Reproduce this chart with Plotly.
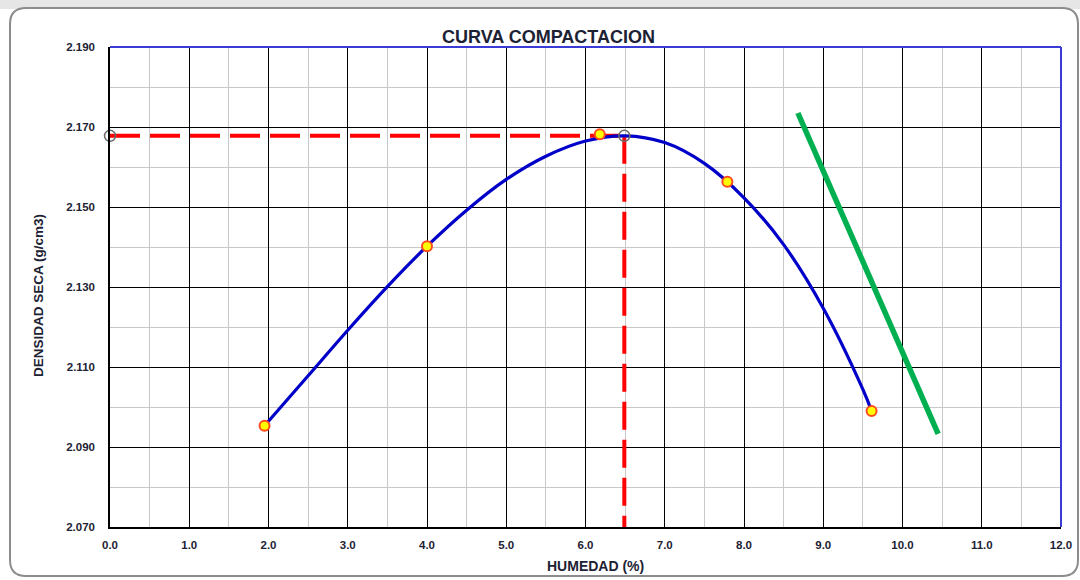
import plotly.graph_objects as go

# Ensayo Proctor: humedad (%) y densidad seca (g/cm3)
humedad = [1.95, 4.00, 6.18, 7.79, 9.61]
densidad = [2.0953, 2.1402, 2.1682, 2.1563, 2.0990]

# Curva de compactación (puntos de la curva ajustada)
curva_x = [1.95, 2.5, 3.0, 3.5, 4.0, 4.5, 5.0, 5.5, 6.0, 6.5, 7.0, 7.5, 8.0, 8.5, 9.0, 9.5, 9.61]
curva_y = [2.0953, 2.1078, 2.1192, 2.1301, 2.1402, 2.1492, 2.1569, 2.1627, 2.1665, 2.1678,
           2.1661, 2.1609, 2.1523, 2.1406, 2.1247, 2.1044, 2.0990]

# Óptimo: humedad óptima y máxima densidad seca
hum_optima = 6.49
dens_max = 2.1678

# Línea de saturación
sat_x = [8.68, 10.45]
sat_y = [2.1735, 2.0933]

x_ticks = [0, 1, 2, 3, 4, 5, 6, 7, 8, 9, 10, 11, 12]
y_ticks = [2.070, 2.090, 2.110, 2.130, 2.150, 2.170, 2.190]

FONT = "Liberation Sans, Arial, sans-serif"
TXT = "#1c2233"

fig = go.Figure()

# Líneas discontinuas del óptimo
fig.add_trace(go.Scatter(
    x=[0, hum_optima], y=[dens_max, dens_max], mode="lines",
    line=dict(color="#ff0000", width=4, dash="30px,10px"), hoverinfo="skip"))
fig.add_trace(go.Scatter(
    x=[hum_optima, hum_optima], y=[dens_max, 2.070], mode="lines",
    line=dict(color="#ff0000", width=4, dash="28px,10px"), hoverinfo="skip"))

# Curva de compactación
fig.add_trace(go.Scatter(
    x=curva_x, y=curva_y, mode="lines", line_shape="spline",
    line=dict(color="#0000c8", width=3.2)))

# Línea de saturación
fig.add_trace(go.Scatter(
    x=sat_x, y=sat_y, mode="lines",
    line=dict(color="#00b050", width=5.5)))

# Puntos del ensayo
fig.add_trace(go.Scatter(
    x=humedad, y=densidad, mode="markers",
    marker=dict(size=10, color="#ffff00", line=dict(color="#ff4a1f", width=2))))

# Marcadores del óptimo
fig.add_trace(go.Scatter(
    x=[0, hum_optima], y=[dens_max, dens_max], mode="markers",
    marker=dict(size=11, color="rgba(0,0,0,0)", line=dict(color="#6a6a6a", width=1.5)),
    cliponaxis=False))

# Marco redondeado de la hoja
L, R, T, B = 110, 1061, 47, 527
def px(x):
    return (x - L) / (R - L)
def py(y):
    return (B - y) / (B - T)

x0, x1, y0, y1, r = 10, 1078, 8, 576, 16
frame = (f"M {px(x0)},{py(y0 + r)} Q {px(x0)},{py(y0)} {px(x0 + r)},{py(y0)} "
         f"L {px(x1 - r)},{py(y0)} Q {px(x1)},{py(y0)} {px(x1)},{py(y0 + r)} "
         f"L {px(x1)},{py(y1 - r)} Q {px(x1)},{py(y1)} {px(x1 - r)},{py(y1)} "
         f"L {px(x0 + r)},{py(y1)} Q {px(x0)},{py(y1)} {px(x0)},{py(y1 - r)} Z")

shapes = [
    dict(type="rect", xref="paper", yref="paper", x0=px(0), x1=px(1090), y0=py(0), y1=py(9),
         fillcolor="#e6e6e6", line=dict(width=0), layer="below"),
    dict(type="path", xref="paper", yref="paper", path=frame,
         line=dict(color="#8c8c8c", width=2), fillcolor="rgba(0,0,0,0)", layer="below"),
    # bordes superior y derecho del área de trazado
    dict(type="line", xref="paper", yref="paper", x0=0, x1=1, y0=1, y1=1,
         line=dict(color="#3a3ad6", width=2)),
    dict(type="line", xref="paper", yref="paper", x0=1, x1=1, y0=0, y1=1,
         line=dict(color="#3a3ad6", width=2)),
]

fig.update_layout(
    width=1080, height=580,
    margin=dict(l=L, r=1080 - R, t=T, b=580 - B, autoexpand=False),
    paper_bgcolor="white", plot_bgcolor="white",
    showlegend=False,
    shapes=shapes,
    font=dict(family=FONT, color=TXT),
    xaxis=dict(
        range=[0, 12], tickvals=x_ticks, ticktext=[f"{v:.1f}" for v in x_ticks],
        showgrid=True, gridcolor="#000000", gridwidth=1,
        minor=dict(dtick=0.5, showgrid=True, gridcolor="#c8c8c8", gridwidth=1),
        showline=True, linecolor="#000000", linewidth=1.5, automargin=False,
        ticks="", zeroline=False, fixedrange=True, ticklabelstandoff=6,
        tickfont=dict(size=11.5, family=FONT, color=TXT, weight="bold"),
    ),
    yaxis=dict(
        range=[2.070, 2.190], tickvals=y_ticks, ticktext=[f"{v:.3f}" for v in y_ticks],
        showgrid=True, gridcolor="#000000", gridwidth=1,
        minor=dict(dtick=0.01, showgrid=True, gridcolor="#c8c8c8", gridwidth=1),
        showline=True, linecolor="#000000", linewidth=1.5, automargin=False,
        ticks="", zeroline=False, fixedrange=True, ticklabelstandoff=11,
        tickfont=dict(size=11.5, family=FONT, color=TXT, weight="bold"),
    ),
    annotations=[
        dict(text="<b>CURVA COMPACTACION</b>", xref="paper", yref="paper",
             x=px(548), y=py(37), xanchor="center", yanchor="middle", showarrow=False,
             font=dict(size=18, family=FONT, color=TXT)),
        dict(text="<b>DENSIDAD SECA (g/cm3)</b>", xref="paper", yref="paper",
             x=px(38), y=py(296), xanchor="center", yanchor="middle", showarrow=False,
             textangle=-90, font=dict(size=13.5, family=FONT, color=TXT)),
        dict(text="<b>HUMEDAD (%)</b>", xref="paper", yref="paper",
             x=px(595), y=py(566), xanchor="center", yanchor="middle", showarrow=False,
             font=dict(size=14, family=FONT, color=TXT)),
    ],
)

fig.write_html("out.html")
